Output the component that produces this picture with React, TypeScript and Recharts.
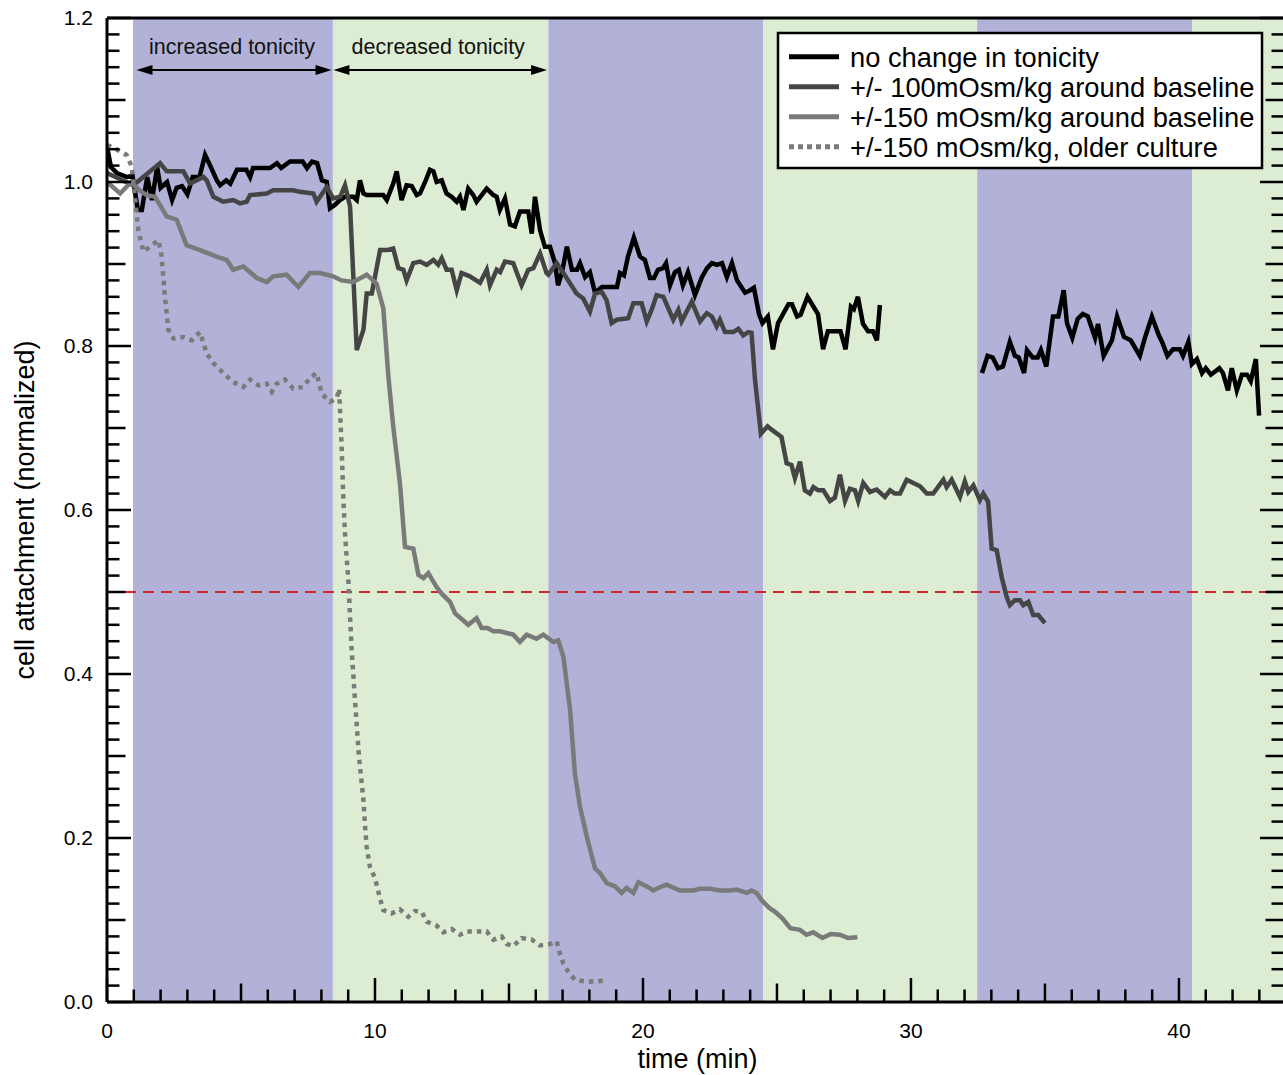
import React from "react";
import { LineChart, Line, XAxis, YAxis, ReferenceArea, ReferenceLine } from "recharts";

type Pt = [number, number];

const FONT = "'Liberation Sans', Arial, Helvetica, sans-serif";

// no change in tonicity (two recording segments)
const noChangeA: Pt[] = [
  [0, 1.043], [0.15, 1.018], [0.37, 1.011], [0.75, 1.006], [0.95, 1.008], [1.15, 0.966], [1.3, 0.966],
  [1.5, 1.006], [1.68, 0.978], [1.87, 1.018], [2.0, 0.993], [2.24, 1.0], [2.43, 0.978], [2.6, 0.993],
  [2.8, 0.995], [3.0, 0.985], [3.2, 1.006], [3.45, 1.006], [3.66, 1.033], [3.85, 1.02], [4.1, 1.002],
  [4.22, 0.996], [4.45, 1.002], [4.6, 0.998], [4.85, 1.015], [5.2, 1.015], [5.34, 1.006], [5.45, 1.017],
  [6.08, 1.017], [6.34, 1.023], [6.5, 1.017], [6.83, 1.025], [7.3, 1.025], [7.46, 1.017], [7.65, 1.025],
  [7.84, 1.023], [8.02, 1.002], [8.2, 1.0], [8.32, 0.968], [8.5, 0.972], [8.69, 0.978], [8.88, 0.982],
  [9.19, 0.982], [9.32, 0.978], [9.44, 1.002], [9.57, 0.986], [9.69, 0.984], [10.31, 0.984], [10.44, 0.978],
  [10.68, 0.998], [10.81, 1.013], [10.99, 0.978], [11.18, 0.996], [11.37, 0.995], [11.56, 0.984],
  [11.68, 0.986], [11.87, 1.0], [12.05, 1.015], [12.18, 1.013], [12.3, 1.0], [12.49, 1.002], [12.67, 0.986],
  [12.86, 0.982], [13.05, 0.976], [13.17, 0.982], [13.3, 0.966], [13.48, 0.992], [13.67, 0.984],
  [13.79, 0.976], [13.98, 0.984], [14.17, 0.992], [14.42, 0.984], [14.54, 0.982], [14.66, 0.966],
  [14.85, 0.98], [15.04, 0.948], [15.22, 0.946], [15.41, 0.964], [15.72, 0.964], [15.85, 0.937],
  [15.97, 0.982], [16.16, 0.941], [16.34, 0.921], [16.53, 0.921], [16.72, 0.901], [16.83, 0.874],
  [16.98, 0.89], [17.16, 0.921], [17.35, 0.893], [17.54, 0.893], [17.65, 0.901], [17.84, 0.884],
  [18.02, 0.89], [18.21, 0.865], [18.47, 0.872], [19.03, 0.872], [19.14, 0.889], [19.29, 0.886],
  [19.44, 0.909], [19.66, 0.932], [19.89, 0.909], [20.07, 0.905], [20.26, 0.883], [20.41, 0.883],
  [20.56, 0.893], [20.75, 0.895], [20.86, 0.901], [21.01, 0.874], [21.19, 0.89], [21.34, 0.893],
  [21.49, 0.874], [21.68, 0.89], [21.94, 0.862], [22.2, 0.884], [22.39, 0.895], [22.57, 0.901],
  [22.76, 0.899], [22.95, 0.901], [23.13, 0.884], [23.32, 0.901], [23.51, 0.88], [23.81, 0.865],
  [24.0, 0.868], [24.14, 0.871], [24.33, 0.839], [24.46, 0.828], [24.66, 0.836], [24.85, 0.796],
  [25.04, 0.828], [25.43, 0.851], [25.56, 0.851], [25.75, 0.836], [25.88, 0.838], [26.14, 0.86],
  [26.53, 0.839], [26.72, 0.796], [26.9, 0.818], [27.37, 0.818], [27.56, 0.796], [27.76, 0.848],
  [27.87, 0.845], [28.02, 0.86], [28.21, 0.827], [28.4, 0.818], [28.58, 0.818], [28.73, 0.807], [28.84, 0.85],
];

const noChangeB: Pt[] = [
  [32.65, 0.767], [32.86, 0.788], [33.05, 0.786], [33.25, 0.773], [33.43, 0.775], [33.69, 0.805],
  [33.88, 0.788], [34.02, 0.786], [34.22, 0.767], [34.33, 0.795], [34.54, 0.786], [34.73, 0.786],
  [34.85, 0.795], [35.05, 0.775], [35.3, 0.836], [35.5, 0.836], [35.7, 0.868], [35.82, 0.828],
  [36.02, 0.81], [36.22, 0.833], [36.41, 0.839], [36.6, 0.836], [36.87, 0.81], [36.98, 0.827],
  [37.19, 0.788], [37.5, 0.807], [37.69, 0.836], [37.95, 0.811], [38.2, 0.807], [38.54, 0.788],
  [38.73, 0.81], [38.99, 0.836], [39.25, 0.813], [39.37, 0.805], [39.57, 0.788], [39.78, 0.796],
  [40.03, 0.796], [40.15, 0.788], [40.35, 0.805], [40.48, 0.778], [40.67, 0.784], [40.86, 0.767],
  [41.0, 0.773], [41.19, 0.765], [41.51, 0.773], [41.64, 0.767], [41.83, 0.746], [41.97, 0.773],
  [42.16, 0.746], [42.35, 0.765], [42.54, 0.765], [42.68, 0.757], [42.87, 0.784], [42.99, 0.715],
];

// +/- 100 mOsm/kg around baseline
const plus100: Pt[] = [
  [0, 1.011], [0.98, 0.996], [1.98, 1.023], [2.23, 1.013], [2.85, 1.013], [3.1, 0.998], [3.6, 1.006],
  [3.72, 1.002], [3.97, 0.982], [4.34, 0.976], [4.71, 0.978], [4.96, 0.974], [5.21, 0.976], [5.34, 0.984],
  [5.96, 0.986], [6.2, 0.99], [6.58, 0.99], [6.95, 0.99], [7.2, 0.988], [7.7, 0.986], [7.82, 0.976],
  [8.2, 0.994], [8.44, 0.98], [8.7, 0.982], [8.88, 0.996], [9.07, 0.97], [9.32, 0.795], [9.57, 0.82],
  [9.69, 0.864], [9.88, 0.864], [10.19, 0.917], [10.44, 0.917], [10.68, 0.919], [10.87, 0.895],
  [11.06, 0.893], [11.18, 0.88], [11.43, 0.901], [11.68, 0.903], [11.93, 0.899], [12.18, 0.905],
  [12.36, 0.899], [12.49, 0.907], [12.67, 0.893], [12.86, 0.893], [13.05, 0.868], [13.23, 0.889],
  [13.54, 0.885], [13.92, 0.877], [14.17, 0.893], [14.29, 0.874], [14.54, 0.893], [14.67, 0.89],
  [14.85, 0.903], [15.16, 0.901], [15.47, 0.874], [15.72, 0.893], [15.91, 0.895], [16.16, 0.913],
  [16.4, 0.889], [16.47, 0.887], [16.78, 0.901], [17.03, 0.889], [17.52, 0.864], [17.77, 0.858],
  [18.02, 0.842], [18.21, 0.864], [18.46, 0.866], [18.64, 0.856], [18.83, 0.828], [19.02, 0.832],
  [19.45, 0.834], [19.64, 0.852], [19.95, 0.852], [20.14, 0.83], [20.32, 0.844], [20.51, 0.862],
  [20.76, 0.86], [21.13, 0.832], [21.32, 0.844], [21.44, 0.83], [21.82, 0.854], [22.13, 0.83],
  [22.38, 0.84], [22.57, 0.836], [22.75, 0.824], [22.87, 0.832], [23.06, 0.817], [23.37, 0.817],
  [23.56, 0.821], [23.74, 0.813], [23.93, 0.817], [24.05, 0.816], [24.18, 0.759], [24.4, 0.693],
  [24.65, 0.702], [24.8, 0.698], [25.17, 0.689], [25.36, 0.657], [25.54, 0.655], [25.67, 0.639],
  [25.86, 0.659], [26.04, 0.624], [26.23, 0.62], [26.36, 0.628], [26.54, 0.624], [26.73, 0.624],
  [26.98, 0.611], [27.16, 0.615], [27.35, 0.643], [27.54, 0.611], [27.72, 0.626], [27.91, 0.624],
  [28.03, 0.611], [28.22, 0.633], [28.47, 0.622], [28.72, 0.625], [29.03, 0.616], [29.22, 0.624],
  [29.4, 0.62], [29.59, 0.62], [29.84, 0.637], [30.09, 0.633], [30.34, 0.629], [30.59, 0.62],
  [30.83, 0.62], [31.21, 0.637], [31.33, 0.628], [31.52, 0.637], [31.83, 0.616], [32.01, 0.635],
  [32.14, 0.622], [32.33, 0.63], [32.57, 0.612], [32.7, 0.62], [32.88, 0.61], [33.01, 0.553],
  [33.2, 0.551], [33.38, 0.519], [33.57, 0.494], [33.69, 0.484], [33.88, 0.49], [34.07, 0.49],
  [34.19, 0.484], [34.38, 0.488], [34.56, 0.472], [34.75, 0.472], [35.0, 0.462],
];

// +/- 150 mOsm/kg around baseline
const plus150: Pt[] = [
  [0, 1.0], [0.49, 0.986], [0.9, 1.0], [1.2, 0.99], [1.48, 0.984], [1.79, 0.982], [2.23, 0.958],
  [2.6, 0.954], [2.97, 0.923], [3.47, 0.917], [4.09, 0.909], [4.47, 0.905], [4.71, 0.893], [5.09, 0.897],
  [5.59, 0.883], [5.96, 0.878], [6.2, 0.885], [6.7, 0.887], [7.14, 0.872], [7.57, 0.889], [7.95, 0.889],
  [8.44, 0.885], [8.75, 0.88], [9.19, 0.878], [9.69, 0.887], [10.06, 0.876], [10.31, 0.846], [10.5, 0.763],
  [10.68, 0.702], [10.93, 0.633], [11.12, 0.555], [11.43, 0.553], [11.62, 0.521], [11.81, 0.517],
  [11.99, 0.523], [12.3, 0.506], [12.49, 0.498], [12.8, 0.488], [12.99, 0.474], [13.48, 0.46],
  [13.79, 0.468], [13.98, 0.456], [14.2, 0.456], [14.42, 0.452], [14.66, 0.452], [15.16, 0.448],
  [15.41, 0.439], [15.66, 0.448], [16.03, 0.443], [16.28, 0.448], [16.66, 0.439], [16.84, 0.441],
  [17.03, 0.421], [17.28, 0.356], [17.46, 0.279], [17.65, 0.238], [17.9, 0.202], [18.21, 0.163],
  [18.4, 0.157], [18.65, 0.145], [18.96, 0.141], [19.2, 0.133], [19.39, 0.139], [19.64, 0.133],
  [19.83, 0.146], [20.14, 0.141], [20.39, 0.136], [20.63, 0.14], [20.88, 0.143], [21.38, 0.136],
  [21.88, 0.136], [22.13, 0.138], [22.5, 0.138], [22.87, 0.136], [23.25, 0.136], [23.5, 0.137],
  [23.87, 0.133], [24.05, 0.136], [24.24, 0.133], [24.43, 0.124], [24.7, 0.115], [24.93, 0.11],
  [25.2, 0.102], [25.5, 0.09], [25.86, 0.088], [26.1, 0.082], [26.35, 0.085], [26.7, 0.078],
  [27.0, 0.083], [27.35, 0.082], [27.65, 0.078], [28.0, 0.079],
];

// +/- 150 mOsm/kg, older culture
const older150: Pt[] = [
  [0, 1.045], [0.35, 1.04], [0.73, 1.033], [0.92, 1.019], [1.04, 0.982], [1.17, 0.941], [1.36, 0.915],
  [1.67, 0.923], [1.92, 0.929], [2.04, 0.909], [2.16, 0.86], [2.29, 0.82], [2.48, 0.809], [2.85, 0.811],
  [3.16, 0.807], [3.47, 0.817], [3.72, 0.791], [3.97, 0.779], [4.34, 0.767], [4.71, 0.756], [5.09, 0.75],
  [5.34, 0.759], [5.65, 0.752], [5.96, 0.754], [6.15, 0.744], [6.33, 0.754], [6.64, 0.759], [6.95, 0.748],
  [7.33, 0.75], [7.57, 0.761], [7.82, 0.767], [8.01, 0.742], [8.32, 0.732], [8.57, 0.736], [8.66, 0.748],
  [8.76, 0.673], [8.82, 0.612], [8.88, 0.572], [9.01, 0.511], [9.07, 0.47], [9.13, 0.429], [9.25, 0.37],
  [9.4, 0.3], [9.57, 0.246], [9.63, 0.214], [9.69, 0.189], [9.81, 0.165], [10.0, 0.151], [10.19, 0.126],
  [10.31, 0.112], [10.62, 0.108], [10.93, 0.113], [11.24, 0.104], [11.49, 0.111], [11.74, 0.11],
  [11.93, 0.098], [12.3, 0.093], [12.55, 0.085], [12.86, 0.089], [13.17, 0.082], [13.42, 0.086],
  [13.79, 0.086], [14.17, 0.086], [14.42, 0.076], [14.73, 0.08], [14.91, 0.071], [15.16, 0.068],
  [15.47, 0.078], [15.85, 0.076], [16.16, 0.069], [16.47, 0.07], [16.78, 0.074], [16.9, 0.059],
  [17.03, 0.047], [17.21, 0.037], [17.46, 0.027], [17.84, 0.025], [18.15, 0.025], [18.58, 0.026],
];

// stimulus periods (min): increased / decreased tonicity alternating
const bandEdges = [0.97, 8.43, 16.47, 24.49, 32.47, 40.5, 43.92];
const bandColors = ["#b2b1d8", "#ddedd3"];
const X_MAX = 43.92;
const THRESHOLD = 0.5;

const xTicks = Array.from({ length: 44 }, (_, i) => i);
const yTicks = Array.from({ length: 61 }, (_, i) => i / 50);

const legendItems = [
  { label: "no change in tonicity", color: "#000000", dash: undefined },
  { label: "+/- 100mOsm/kg around baseline", color: "#454545", dash: undefined },
  { label: "+/-150 mOsm/kg around baseline", color: "#7a7a7a", dash: undefined },
  { label: "+/-150 mOsm/kg, older culture", color: "#7a7a7a", dash: "5 4" },
];

const rows = (pts: Pt[]) => pts.map(([t, v]) => ({ t, v }));

function XTick(props: any) {
  const { x, y, payload } = props;
  const v = Math.round(payload.value);
  const len = v % 10 === 0 ? 24 : v % 5 === 0 ? 18.5 : 12.5;
  return (
    <g>
      <line x1={x} x2={x} y1={y} y2={y - len} stroke="#000" strokeWidth={2.5} />
      {v % 10 === 0 && (
        <text x={x} y={y + 36} textAnchor="middle" fontSize={21} fontFamily={FONT} fill="#000">
          {v}
        </text>
      )}
    </g>
  );
}

function YTick(props: any) {
  const { x, y, payload, side } = props;
  const i = Math.round(payload.value * 50);
  const len = i % 10 === 0 ? 24 : i % 5 === 0 ? 18.5 : 12.5;
  const dir = side === "left" ? 1 : -1;
  return (
    <g>
      <line x1={x} x2={x + dir * len} y1={y} y2={y} stroke="#000" strokeWidth={2.5} />
      {side === "left" && i % 10 === 0 && (
        <text x={x - 14} y={y} dy="0.35em" textAnchor="end" fontSize={21} fontFamily={FONT} fill="#000">
          {(i / 50).toFixed(1)}
        </text>
      )}
    </g>
  );
}

function arrowShape(text: string) {
  return (p: any) => {
    const { x1, y1, x2 } = p;
    const h = 16;
    const w = 5;
    return (
      <g>
        <line x1={x1 + h - 2} y1={y1} x2={x2 - h + 2} y2={y1} stroke="#000" strokeWidth={2} />
        <polygon points={`${x1},${y1} ${x1 + h},${y1 - w} ${x1 + h},${y1 + w}`} fill="#000" />
        <polygon points={`${x2},${y1} ${x2 - h},${y1 - w} ${x2 - h},${y1 + w}`} fill="#000" />
        <text x={(x1 + x2) / 2 - 2} y={y1 - 16} textAnchor="middle" fontSize={21.5} fontFamily={FONT} fill="#111">
          {text}
        </text>
      </g>
    );
  };
}

const xTitle = (p: any) => {
  const vb = p.viewBox || { x: 107, y: 1002, width: 1177, height: 73 };
  return (
    <text x={vb.x + vb.width / 2 + 2} y={vb.y + 66} textAnchor="middle" fontSize={27} fontFamily={FONT} fill="#000">
      time (min)
    </text>
  );
};

const yTitle = (p: any) => {
  const vb = p.viewBox || { x: 0, y: 18, width: 107, height: 984 };
  const cx = vb.x + 34;
  const cy = vb.y + vb.height / 2;
  return (
    <text x={cx} y={cy} transform={`rotate(-90 ${cx} ${cy})`} textAnchor="middle" fontSize={27} fontFamily={FONT} fill="#000">
      cell attachment (normalized)
    </text>
  );
};

const LINE_W = 4.5;

export default function App() {
  const bands = bandEdges.slice(0, -1).map((x1, i) => ({ x1, x2: bandEdges[i + 1], fill: bandColors[i % 2] }));

  return (
    <div style={{ position: "absolute", left: 0, top: 0, width: 1283, height: 1075, overflow: "hidden", background: "#fff" }}>
      <LineChart width={1290} height={1075} margin={{ top: 18, right: 0, bottom: 0, left: 0 }}>
        {bands.map((b) => (
          <ReferenceArea key={b.x1} x1={b.x1} x2={b.x2} yAxisId="left" fill={b.fill} fillOpacity={1} stroke="none" />
        ))}
        <ReferenceLine
          yAxisId="left"
          segment={[{ x: 1.1, y: 1.1366 }, { x: 8.38, y: 1.1366 }]}
          shape={arrowShape("increased tonicity")}
        />
        <ReferenceLine
          yAxisId="left"
          segment={[{ x: 8.45, y: 1.1366 }, { x: 16.42, y: 1.1366 }]}
          shape={arrowShape("decreased tonicity")}
        />
        <ReferenceLine yAxisId="left" y={THRESHOLD} stroke="#d7262b" strokeWidth={2} strokeDasharray="11 7" />

        <Line data={rows(noChangeA)} dataKey="v" yAxisId="left" stroke="#000" strokeWidth={LINE_W} dot={false} activeDot={false} isAnimationActive={false} />
        <Line data={rows(noChangeB)} dataKey="v" yAxisId="left" stroke="#000" strokeWidth={LINE_W} dot={false} activeDot={false} isAnimationActive={false} />
        <Line data={rows(plus100)} dataKey="v" yAxisId="left" stroke="#454545" strokeWidth={LINE_W} dot={false} activeDot={false} isAnimationActive={false} />
        <Line data={rows(plus150)} dataKey="v" yAxisId="left" stroke="#7a7a7a" strokeWidth={LINE_W} dot={false} activeDot={false} isAnimationActive={false} />
        <Line data={rows(older150)} dataKey="v" yAxisId="left" stroke="#7a7a7a" strokeWidth={LINE_W} strokeDasharray="4.5 5" dot={false} activeDot={false} isAnimationActive={false} />

        <ReferenceLine yAxisId="left" y={1.2} stroke="#000" strokeWidth={3} />

        <XAxis
          type="number"
          dataKey="t"
          domain={[0, X_MAX]}
          ticks={xTicks}
          interval={0}
          height={73}
          tickSize={0}
          tickMargin={0}
          tickLine={false}
          axisLine={{ stroke: "#000", strokeWidth: 3 }}
          tick={(p: any) => <XTick {...p} />}
          label={xTitle}
          allowDataOverflow
        />
        <YAxis
          yAxisId="left"
          type="number"
          domain={[0, 1.2]}
          ticks={yTicks}
          interval={0}
          width={107}
          tickSize={0}
          tickMargin={0}
          tickLine={false}
          axisLine={{ stroke: "#000", strokeWidth: 3 }}
          tick={(p: any) => <YTick {...p} side="left" />}
          label={yTitle}
          allowDataOverflow
        />
        <YAxis
          yAxisId="right"
          orientation="right"
          type="number"
          domain={[0, 1.2]}
          ticks={yTicks}
          interval={0}
          width={6}
          tickSize={0}
          tickMargin={0}
          tickLine={false}
          axisLine={false}
          tick={(p: any) => <YTick {...p} side="right" />}
          allowDataOverflow
        />
      </LineChart>

      <svg width={1283} height={1075} style={{ position: "absolute", left: 0, top: 0, pointerEvents: "none" }}>
        <rect x={778} y={33} width={484} height={135} fill="#fff" stroke="#000" strokeWidth={2.5} />
        {legendItems.map((item, i) => {
          const ly = 56.7 + i * 30;
          return (
            <g key={item.label}>
              <line x1={789} x2={839} y1={ly} y2={ly} stroke={item.color} strokeWidth={5} strokeDasharray={item.dash} />
              <text x={850} y={ly + 10} fontSize={27.3} fontFamily={FONT} fill="#000">
                {item.label}
              </text>
            </g>
          );
        })}
      </svg>
    </div>
  );
}
